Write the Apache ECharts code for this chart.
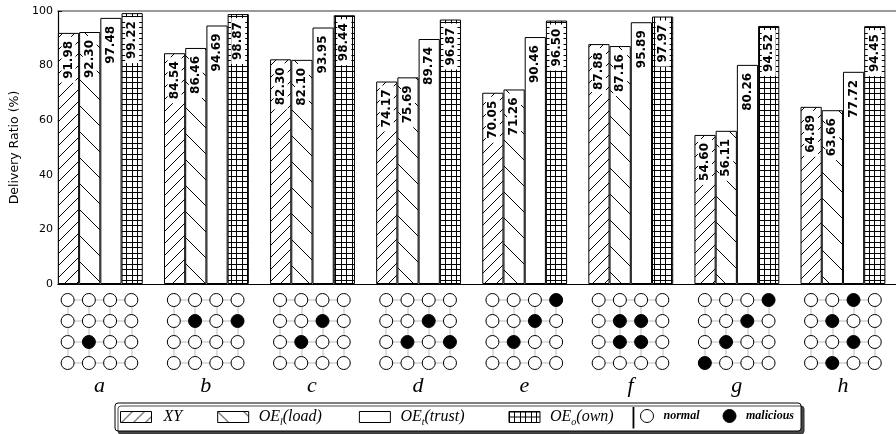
<!DOCTYPE html>
<html>
<head>
<meta charset="utf-8">
<script src="https://cdn.jsdelivr.net/npm/echarts@6/dist/echarts.min.js"></script>
<style>
html,body{margin:0;padding:0;background:#fff;}
#chart{width:896px;height:434px;}
</style>
</head>
<body>
<div id="chart"></div>
<script>
// ---------- data ----------
const categories = ['a', 'b', 'c', 'd', 'e', 'f', 'g', 'h'];
const seriesNames = ['XY', 'OE_l(load)', 'OE_t(trust)', 'OE_o(own)'];
const xyValues    = [91.98, 84.54, 82.30, 74.17, 70.05, 87.88, 54.60, 64.89];
const loadValues  = [92.30, 86.46, 82.10, 75.69, 71.26, 87.16, 56.11, 63.66];
const trustValues = [97.48, 94.69, 93.95, 89.74, 90.46, 95.89, 80.26, 77.72];
const ownValues   = [99.22, 98.87, 98.44, 96.87, 96.50, 97.97, 94.52, 94.45];
const yTickMin = 0, yTickMax = 100, yTickStep = 20;
const yAxisName = 'Delivery Ratio (%)';
// malicious node positions per scenario: [row (top=0), col]
const maliciousNodes = [
  [[2, 1]],
  [[1, 1], [1, 3]],
  [[1, 2], [2, 1]],
  [[1, 2], [2, 1], [2, 3]],
  [[0, 3], [1, 2], [2, 1]],
  [[1, 1], [1, 2], [2, 1], [2, 2]],
  [[0, 3], [1, 2], [2, 1], [3, 0]],
  [[0, 2], [1, 1], [2, 2], [3, 1]]
];
const gridRows = 4, gridCols = 4;
const nodeNames = ['normal', 'malicious'];

// ---------- patterns ----------
function makePattern(kind) {
  const c = document.createElement('canvas');
  let s;
  if (kind === 'fwd') s = 12;
  else if (kind === 'back') s = 26;
  else if (kind === 'grid') s = 11;
  else s = 4;
  c.width = s; c.height = s;
  const ctx = c.getContext('2d');
  ctx.fillStyle = '#fff';
  ctx.fillRect(0, 0, s, s);
  ctx.strokeStyle = '#000';
  ctx.lineWidth = 1;
  ctx.beginPath();
  if (kind === 'fwd') {
    [0, s, 2 * s].forEach(k => { ctx.moveTo(-1, k + 1); ctx.lineTo(k + 1, -1); });
  } else if (kind === 'back') {
    [-s, 0, s].forEach(k => { ctx.moveTo(-1, k - 1); ctx.lineTo(s + 1, k + s + 1); });
  } else if (kind === 'grid') {
    [0.5, 5.5].forEach(p => {
      ctx.moveTo(p, 0); ctx.lineTo(p, s);
      ctx.moveTo(0, p); ctx.lineTo(s, p);
    });
  }
  ctx.stroke();
  return { image: c, repeat: 'repeat' };
}
const fills = [makePattern('fwd'), makePattern('back'), '#ffffff', makePattern('grid')];
const valueLists = [xyValues, loadValues, trustValues, ownValues];

// ---------- build series ----------
const barSeries = seriesNames.map((name, si) => ({
  name: name,
  type: 'bar',
  xAxisIndex: 0,
  yAxisIndex: 0,
  barGap: '0%',
  barCategoryGap: '20%',
  data: valueLists[si].map((v, i) => [i, v]),
  itemStyle: { color: fills[si], borderColor: '#000', borderWidth: 1 },
  label: {
    show: true,
    position: 'insideTop',
    rotate: 90,
    align: 'right',
    verticalAlign: 'middle',
    distance: 4,
    color: '#000',
    fontFamily: 'DejaVu Sans',
    fontWeight: 'bold',
    fontSize: 12,
    lineHeight: 14,
    backgroundColor: '#fff',
    padding: [0, 4],
    formatter: p => p.value[1].toFixed(2)
  },
  emphasis: { disabled: true },
  z: 2
}));

const normalData = [], maliciousData = [], meshData = [];
categories.forEach((cat, g) => {
  const bad = maliciousNodes[g];
  for (let r = 0; r < gridRows; r++) {
    for (let c = 0; c < gridCols; c++) {
      const x = g - 0.3 + 0.2 * c;
      const isBad = bad.some(p => p[0] === r && p[1] === c);
      (isBad ? maliciousData : normalData).push([x, r]);
    }
  }
  for (let r = 0; r < gridRows; r++) {
    meshData.push({ coords: [[g - 0.3, r], [g + 0.3, r]] });
  }
  for (let c = 0; c < gridCols; c++) {
    const x = g - 0.3 + 0.2 * c;
    meshData.push({ coords: [[x, 0], [x, gridRows - 1]] });
  }
});

const serif = 'Liberation Serif';
const chart = echarts.init(document.getElementById('chart'), null, { renderer: 'canvas' });
chart.setOption({
  animation: false,
  backgroundColor: '#fff',
  grid: [
    { left: 57, right: 0, top: 11, bottom: 150, containLabel: false },
    { left: 57, right: 0, top: 289.5, height: 84, containLabel: false },
    { left: 46.38, right: 0, top: 371, height: 1, containLabel: false }
  ],
  xAxis: [
    { type: 'value', gridIndex: 0, min: -0.4, max: 7.5, position: 'bottom',
      axisLine: { show: true, onZero: false, lineStyle: { color: '#000', width: 1.2 } },
      axisTick: { show: false }, axisLabel: { show: false }, splitLine: { show: false } },
    { type: 'value', gridIndex: 0, min: -0.4, max: 7.5, position: 'top',
      axisLine: { show: true, onZero: false, lineStyle: { color: '#7a7a7a', width: 1.5 } },
      axisTick: { show: false }, axisLabel: { show: false }, splitLine: { show: false } },
    { type: 'value', gridIndex: 1, min: -0.4, max: 7.5, show: false },
    { type: 'category', gridIndex: 2, data: categories, boundaryGap: true,
      axisLine: { show: false }, axisTick: { show: false }, splitLine: { show: false },
      axisLabel: { show: true, interval: 0, margin: 14, verticalAlign: 'middle', color: '#000',
        fontFamily: serif, fontStyle: 'italic', fontSize: 22 } }
  ],
  yAxis: [
    { type: 'value', gridIndex: 0, min: yTickMin, max: yTickMax, interval: yTickStep,
      name: yAxisName, nameLocation: 'middle', nameGap: 28, nameRotate: 90,
      nameTextStyle: { color: '#000', fontFamily: 'DejaVu Sans', fontSize: 12.5 },
      axisLine: { show: true, onZero: false, lineStyle: { color: '#000', width: 1.2 } },
      axisTick: { show: true, inside: true, length: 4, lineStyle: { color: '#000' } },
      axisLabel: { color: '#000', fontFamily: 'DejaVu Sans', fontSize: 11, margin: 5 },
      splitLine: { show: false } },
    { type: 'value', gridIndex: 1, min: -0.5, max: gridRows - 0.5, inverse: true, show: false },
    { type: 'value', gridIndex: 2, show: false }
  ],
  legend: [
    {
      data: seriesNames,
      left: 115, top: 403,
      padding: [3, 164, 3, 5],
      orient: 'horizontal',
      itemWidth: 31, itemHeight: 11, itemGap: 10,
      icon: 'rect',
      selectedMode: false,
      backgroundColor: '#fff',
      borderColor: '#000', borderWidth: 1, borderRadius: 3,
      shadowColor: 'rgba(40,40,40,0.85)', shadowOffsetX: 3, shadowOffsetY: 3, shadowBlur: 0,
      itemStyle: { borderWidth: 1, borderColor: '#000' },
      textStyle: {
        color: '#000',
        rich: {
          a1: { fontFamily: serif, fontStyle: 'italic', fontSize: 16, lineHeight: 20, padding: [0, 25, 0, 7] },
          a2: { fontFamily: serif, fontStyle: 'italic', fontSize: 16, lineHeight: 20, padding: [0, 0, 0, 5] },
          s: { fontFamily: serif, fontStyle: 'italic', fontSize: 10, lineHeight: 10, padding: [10, 0, 0, 0] },
          b2: { fontFamily: serif, fontStyle: 'italic', fontSize: 16, lineHeight: 20, padding: [0, 27, 0, 0] },
          b3: { fontFamily: serif, fontStyle: 'italic', fontSize: 16, lineHeight: 20, padding: [0, 34, 0, 0] },
          b4: { fontFamily: serif, fontStyle: 'italic', fontSize: 16, lineHeight: 20 },
          sep: { fontFamily: 'DejaVu Sans', fontSize: 22, lineHeight: 20, padding: [0, 0, 0, 16] }
        }
      },
      formatter: function (name) {
        if (name === 'XY') return '{a1|XY}';
        if (name === 'OE_l(load)') return '{a2|OE}{s|l}{b2|(load)}';
        if (name === 'OE_t(trust)') return '{a2|OE}{s|t}{b3|(trust)}';
        return '{a2|OE}{s|o}{b4|(own)}{sep||}';
      }
    },
    {
      data: nodeNames,
      left: 640, top: 409,
      padding: 0,
      itemWidth: 13, itemHeight: 13, itemGap: 20,
      selectedMode: false,
      itemStyle: { borderWidth: 1, borderColor: '#000' },
      z: 10,
      textStyle: {
        color: '#000',
        rich: {
          n1: { fontFamily: serif, fontStyle: 'italic', fontWeight: 'bold', fontSize: 12, lineHeight: 16, padding: [0, 3, 0, 5] },
          n2: { fontFamily: serif, fontStyle: 'italic', fontWeight: 'bold', fontSize: 12, lineHeight: 16, padding: [0, 0, 0, 5] }
        }
      },
      formatter: function (name) {
        return name === 'normal' ? '{n1|normal}' : '{n2|malicious}';
      }
    }
  ],
  series: barSeries.concat([
    {
      name: 'mesh',
      type: 'lines',
      coordinateSystem: 'cartesian2d',
      xAxisIndex: 2, yAxisIndex: 1,
      polyline: false,
      silent: true,
      lineStyle: { color: '#dcdcdc', width: 2, opacity: 1, curveness: 0 },
      data: meshData,
      z: 1
    },
    {
      name: 'normal',
      type: 'scatter',
      xAxisIndex: 2, yAxisIndex: 1,
      symbol: 'circle', symbolSize: 13,
      itemStyle: { color: '#fff', borderColor: '#000', borderWidth: 1, opacity: 1 },
      data: normalData,
      emphasis: { disabled: true },
      z: 3
    },
    {
      name: 'malicious',
      type: 'scatter',
      xAxisIndex: 2, yAxisIndex: 1,
      symbol: 'circle', symbolSize: 13,
      itemStyle: { color: '#000', borderColor: '#000', borderWidth: 1, opacity: 1 },
      data: maliciousData,
      emphasis: { disabled: true },
      z: 3
    }
  ])
});
</script>
</body>
</html>
